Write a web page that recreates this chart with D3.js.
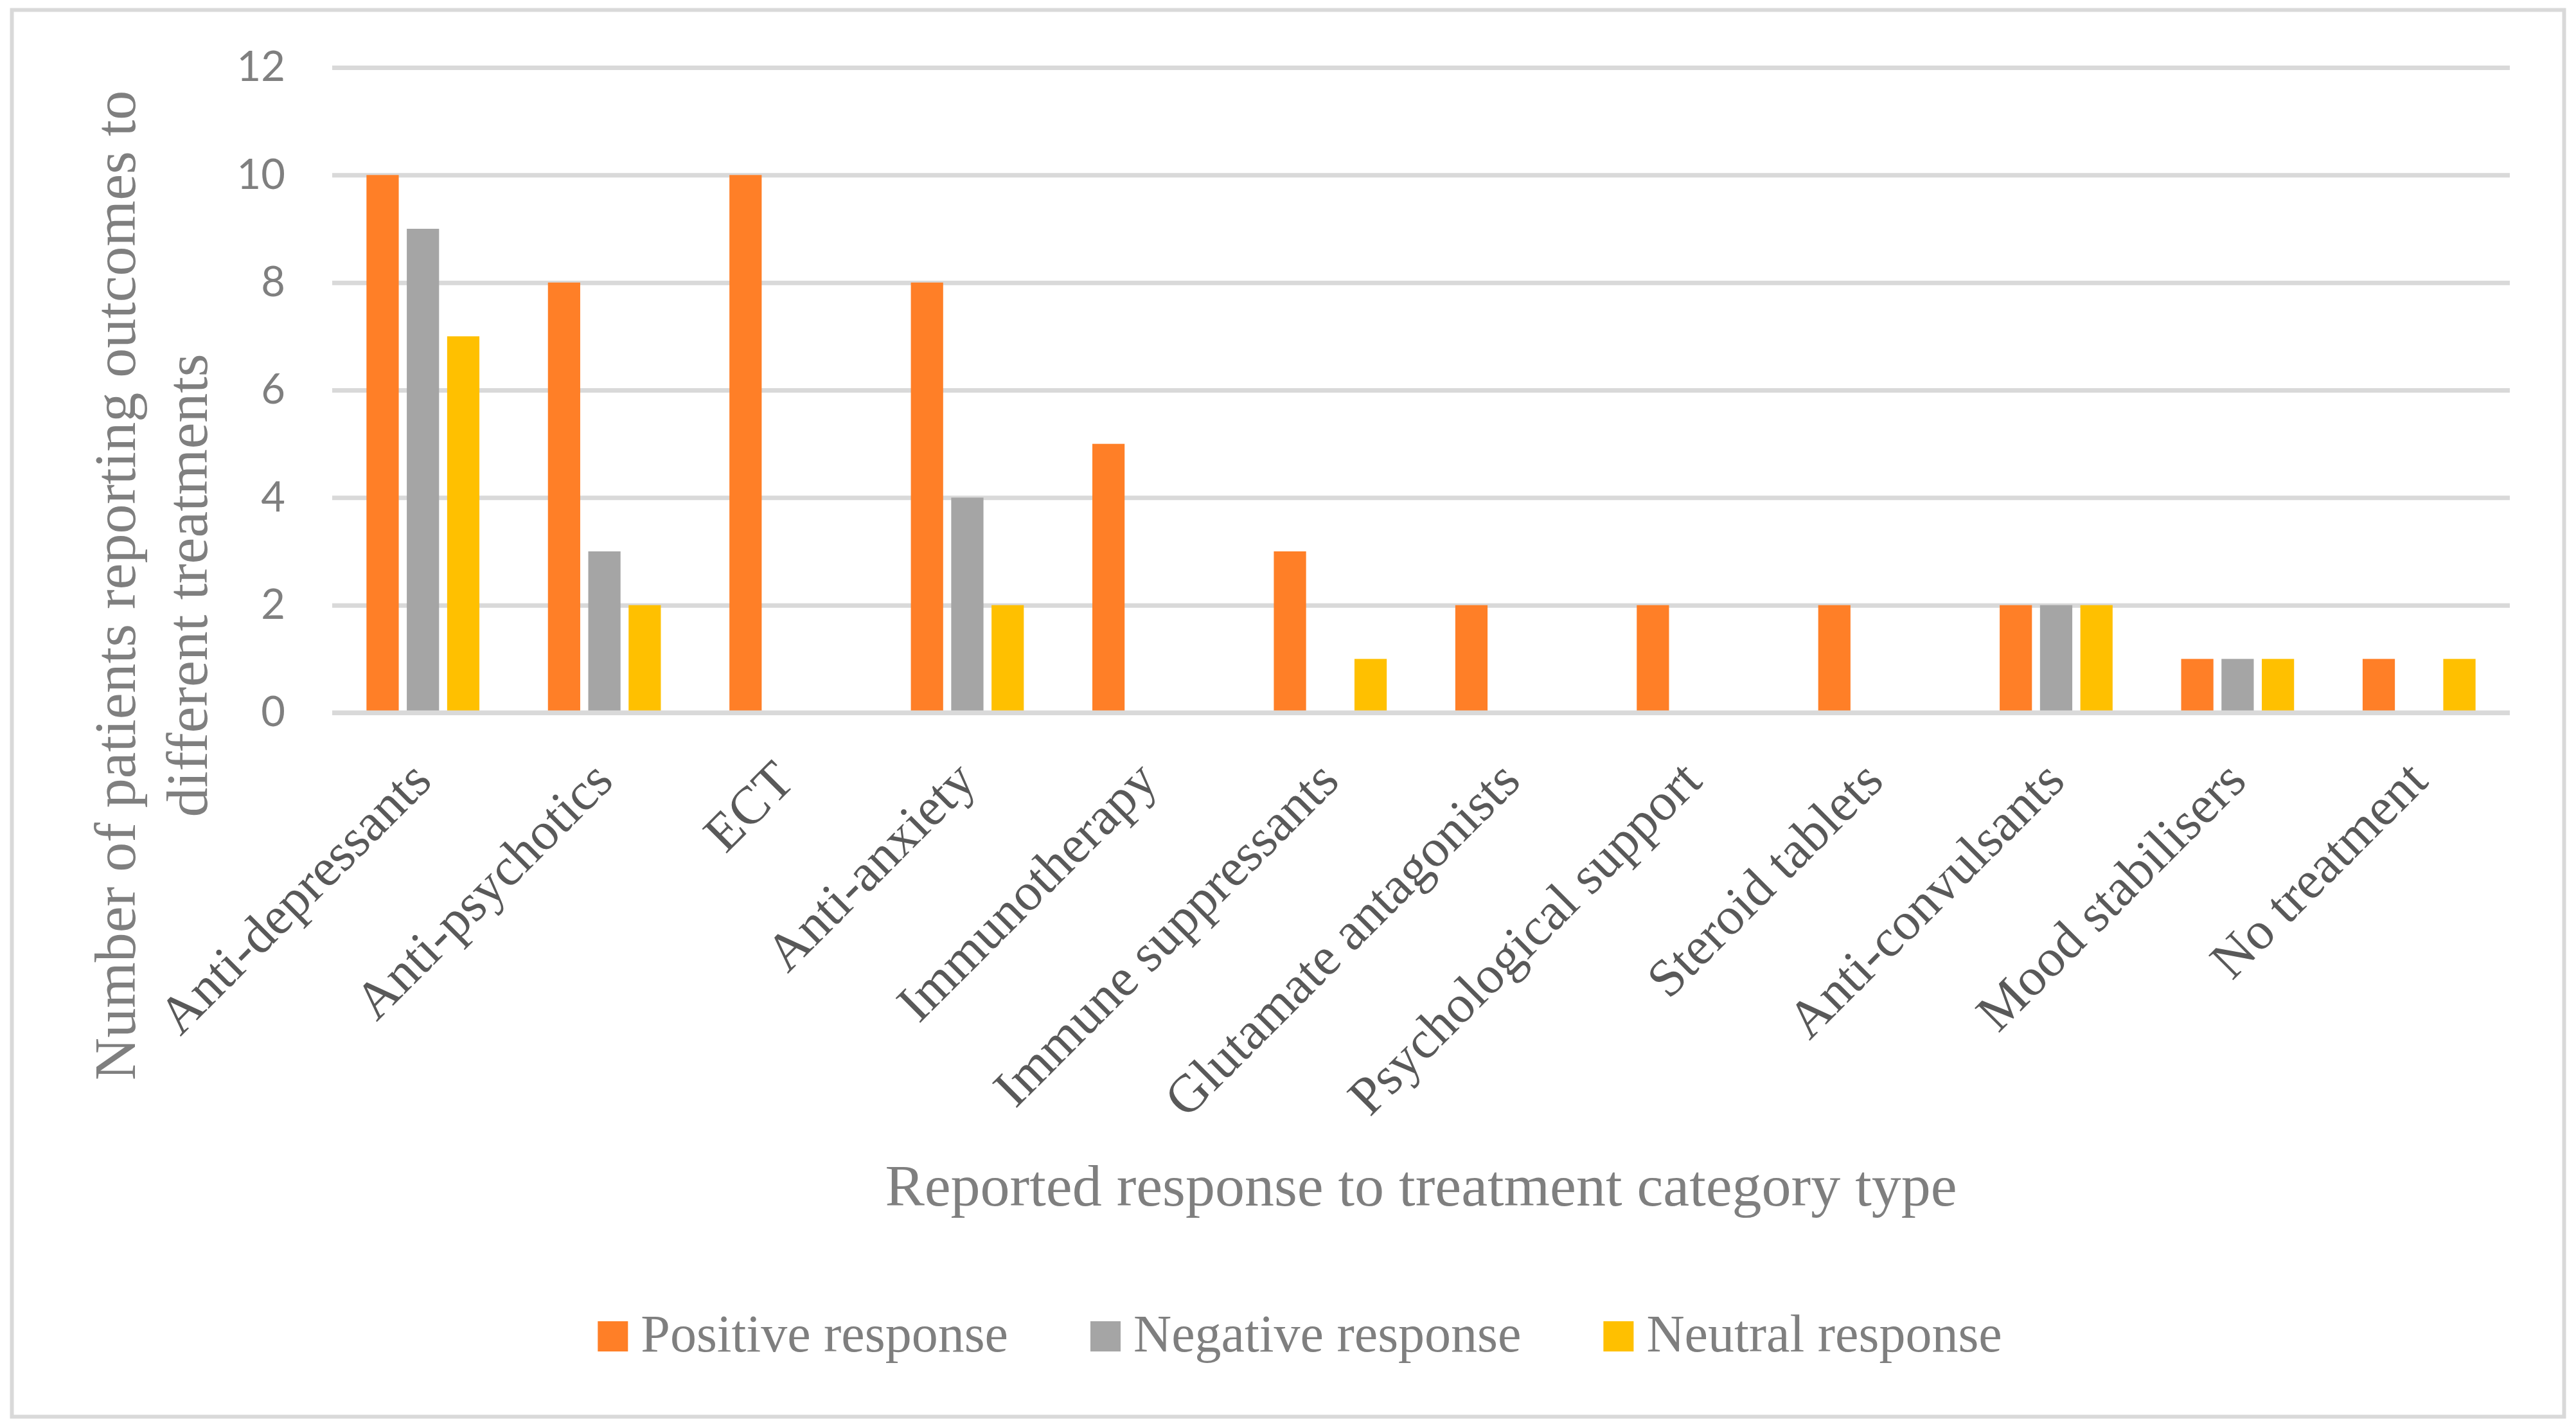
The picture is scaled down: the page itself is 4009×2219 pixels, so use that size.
<!doctype html>
<html>
<head>
<meta charset="UTF-8">
<title>Reported response to treatment category type</title>
<script src="https://cdn.jsdelivr.net/npm/d3@7"></script>
<style>
  html, body { margin: 0; padding: 0; background: #fff; }
  svg { display: block; }
  .serif { font-family: "Palatino Linotype", "Book Antiqua", Palatino, "Liberation Serif", serif; }
</style>
</head>
<body>
<div id="chart"></div>
<script>
// data
const categories = [
  "Anti-depressants", "Anti-psychotics", "ECT", "Anti-anxiety", "Immunotherapy",
  "Immune suppressants", "Glutamate antagonists", "Psychological support",
  "Steroid tablets", "Anti-convulsants", "Mood stabilisers", "No treatment"
];
const seriesNames = ["Positive response", "Negative response", "Neutral response"];
const positive = [10, 8, 10, 8, 5, 3, 2, 2, 2, 2, 1, 1];
const negative = [9, 3, 0, 4, 0, 0, 0, 0, 0, 2, 1, 0];
const neutral  = [7, 2, 0, 2, 0, 1, 0, 0, 0, 2, 1, 1];
const yTicks = [0, 2, 4, 6, 8, 10, 12];
const colors = ["#ff7f27", "#a5a5a5", "#ffc000"];

const W = 4009, H = 2219;
const plot = { left: 517, right: 3906, top: 105, bottom: 1109 };

const svg = d3.select("#chart").append("svg")
  .attr("width", W).attr("height", H);

// outer chart border
svg.append("rect")
  .attr("x", 18.5).attr("y", 15.5)
  .attr("width", W - 37).attr("height", H - 30)
  .attr("fill", "#fff").attr("stroke", "#d9d9d9").attr("stroke-width", 6);

const x0 = d3.scaleBand().domain(categories).range([plot.left, plot.right]);
const x1 = d3.scaleBand().domain(seriesNames).range([0, x0.bandwidth()])
  .paddingInner(0.2).paddingOuter(0.85);
const y = d3.scaleLinear().domain([0, 12]).range([plot.bottom, plot.top]);

const rows = categories.map((c, i) => ({
  cat: c,
  vals: [positive[i], negative[i], neutral[i]]
}));

// gridlines + y labels
const yAxis = svg.append("g")
  .attr("transform", `translate(${plot.left},0)`)
  .call(d3.axisLeft(y).tickValues(yTicks).tickSize(-(plot.right - plot.left)).tickPadding(73));
yAxis.select(".domain").remove();
yAxis.selectAll(".tick line").attr("stroke", "#d9d9d9").attr("stroke-width", 7);
yAxis.selectAll(".tick text")
  .attr("fill", "#7f7f7f")
  .style("font-family", "Lato, 'Open Sans', sans-serif")
  .style("font-size", "65px");

// bars
const groups = svg.append("g").selectAll("g").data(rows).join("g")
  .attr("transform", d => `translate(${x0(d.cat)},0)`);
groups.selectAll("rect")
  .data(d => d.vals.map((v, k) => ({ name: seriesNames[k], v, k })))
  .join("rect")
  .attr("x", d => x1(d.name))
  .attr("width", x1.bandwidth())
  .attr("y", d => y(d.v))
  .attr("height", d => y(0) - y(d.v))
  .attr("fill", d => colors[d.k]);

// redraw the zero line on top of bar bottoms
svg.append("line")
  .attr("x1", plot.left).attr("x2", plot.right)
  .attr("y1", y(0)).attr("y2", y(0))
  .attr("stroke", "#d9d9d9").attr("stroke-width", 7);

// category labels, rotated
const xAxis = svg.append("g")
  .attr("transform", `translate(0,${plot.bottom})`)
  .call(d3.axisBottom(x0).tickSize(0));
xAxis.select(".domain").remove();
xAxis.selectAll(".tick text")
  .attr("class", "serif")
  .attr("fill", "#595959")
  .style("font-size", "83px")
  .attr("text-anchor", "end")
  .attr("y", 0).attr("dy", 0)
  .attr("transform", "translate(17,110) rotate(-45)");

// axis titles
svg.append("text").attr("class", "serif")
  .attr("x", (plot.left + plot.right) / 2).attr("y", 1876)
  .attr("text-anchor", "middle").attr("fill", "#7f7f7f")
  .style("font-size", "92px")
  .text("Reported response to treatment category type");

const yTitle = ["Number of patients reporting outcomes to", "different treatments"];
const yTitleX = [210, 322];
yTitle.forEach((t, i) => {
  svg.append("text").attr("class", "serif")
    .attr("transform", `translate(${yTitleX[i]},911) rotate(-90)`)
    .attr("text-anchor", "middle").attr("fill", "#7f7f7f")
    .style("font-size", "92px")
    .text(t);
});

// legend
const sw = 47, swGap = 20, entryGap = 128, legendCx = 2023, legendBase = 2103;
const legend = svg.append("g");
const items = legend.selectAll("g").data(seriesNames).join("g");
items.append("rect")
  .attr("width", sw).attr("height", sw)
  .attr("y", legendBase - sw)
  .attr("fill", (d, i) => colors[i]);
items.append("text").attr("class", "serif")
  .attr("x", sw + swGap).attr("y", legendBase)
  .attr("fill", "#7f7f7f")
  .style("font-size", "82px")
  .text(d => d);
const widths = items.nodes().map(n => sw + swGap + n.querySelector("text").getComputedTextLength());
const total = d3.sum(widths) + entryGap * (widths.length - 1);
let cx = legendCx - total / 2;
items.attr("transform", (d, i) => {
  const t = `translate(${cx},0)`;
  cx += widths[i] + entryGap;
  return t;
});
</script>
</body>
</html>
